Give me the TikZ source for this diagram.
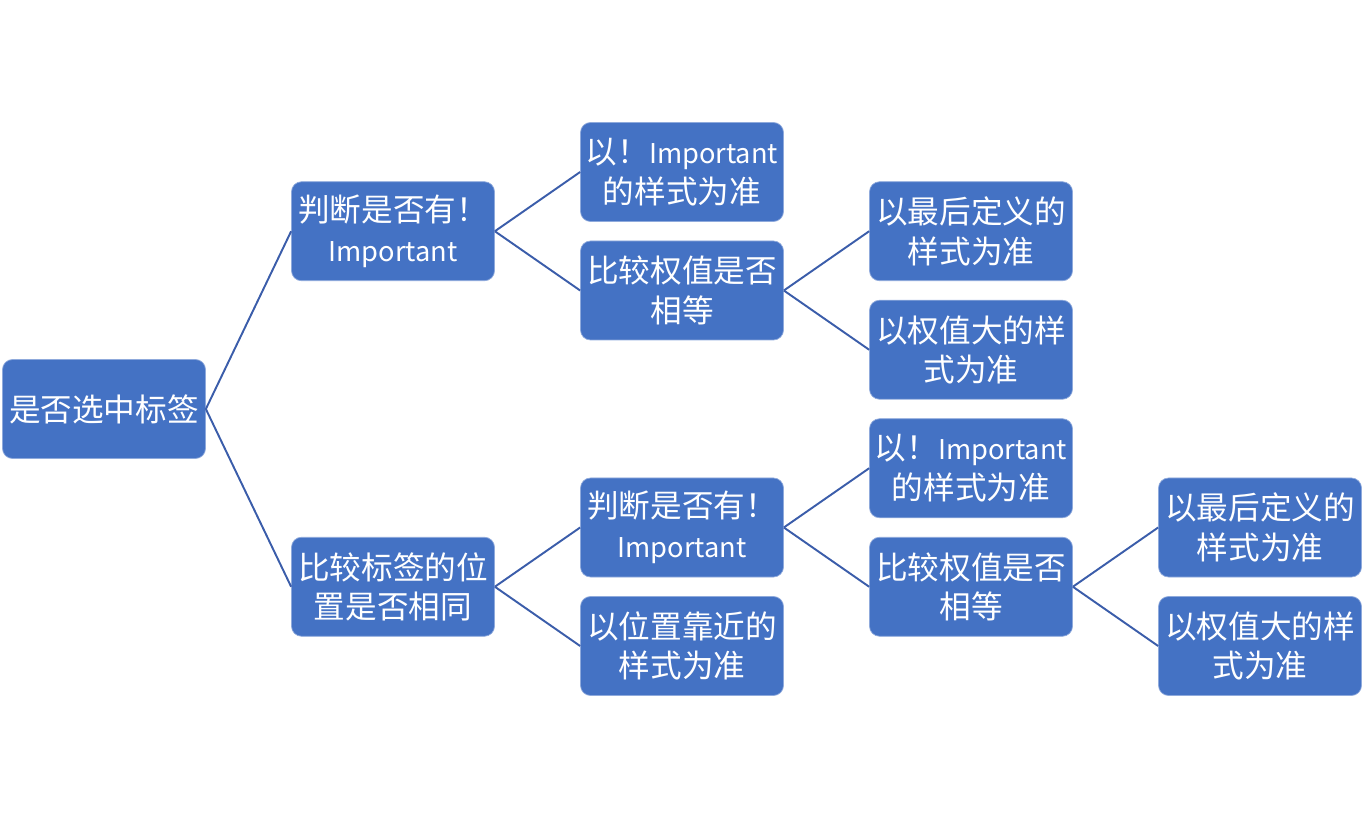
\documentclass[tikz,border=0pt]{standalone}
\usepackage{fontspec}
\setmainfont{Noto Sans CJK SC}
\definecolor{boxblue}{RGB}{68,114,196}
\definecolor{boxedge}{RGB}{143,170,220}
\definecolor{linkblue}{RGB}{59,93,170}
\newcommand\imptext{{\fontsize{15.5}{22.5}\selectfont Important}}
\tikzset{
  box/.style={draw=boxedge, line width=0.4pt, fill=boxblue, rounded corners=0.2cm,
    minimum width=4.06cm, minimum height=1.98cm, inner sep=0pt, align=center,
    text=white, font=\fontsize{18}{22.5}\selectfont},
  link/.style={draw=linkblue, line width=1.1pt}
}
\begin{document}
\begin{tikzpicture}

  \newcommand\dX{5.78cm};
  \newcommand\dY{1.185cm};

  \useasboundingbox (-2.08,8.18) rectangle (25.2,-8.22); %% positioning

  %% boxes
  \node[box] (root)  at (0*\dX,  0*\dY) {是否选中标签};
  \node[box] (imp)   at (1*\dX,  3*\dY) {判断是否有！\\\imptext};
  \node[box] (pos)   at (1*\dX, -3*\dY) {比较标签的位\\置是否相同};

  \node[box] (impA)  at (2*\dX,  4*\dY) {以！\imptext\\的样式为准};
  \node[box] (cmpA)  at (2*\dX,  2*\dY) {比较权值是否\\相等};
  \node[box] (lastA) at (3*\dX,  3*\dY) {以最后定义的\\样式为准};
  \node[box] (bigA)  at (3*\dX,  1*\dY) {以权值大的样\\式为准};

  \node[box] (impB)  at (2*\dX, -2*\dY) {判断是否有！\\\imptext};
  \node[box] (nearB) at (2*\dX, -4*\dY) {以位置靠近的\\样式为准};
  \node[box] (impC)  at (3*\dX, -1*\dY) {以！\imptext\\的样式为准};
  \node[box] (cmpC)  at (3*\dX, -3*\dY) {比较权值是否\\相等};
  \node[box] (lastC) at (4*\dX, -2*\dY) {以最后定义的\\样式为准};
  \node[box] (bigC)  at (4*\dX, -4*\dY) {以权值大的样\\式为准};

  %% links
  \draw[link] (root.east) -- (imp.west);
  \draw[link] (root.east) -- (pos.west);
  \draw[link] (imp.east) -- (impA.west);
  \draw[link] (imp.east) -- (cmpA.west);
  \draw[link] (cmpA.east) -- (lastA.west);
  \draw[link] (cmpA.east) -- (bigA.west);
  \draw[link] (pos.east) -- (impB.west);
  \draw[link] (pos.east) -- (nearB.west);
  \draw[link] (impB.east) -- (impC.west);
  \draw[link] (impB.east) -- (cmpC.west);
  \draw[link] (cmpC.east) -- (lastC.west);
  \draw[link] (cmpC.east) -- (bigC.west);

\end{tikzpicture}
\end{document}
